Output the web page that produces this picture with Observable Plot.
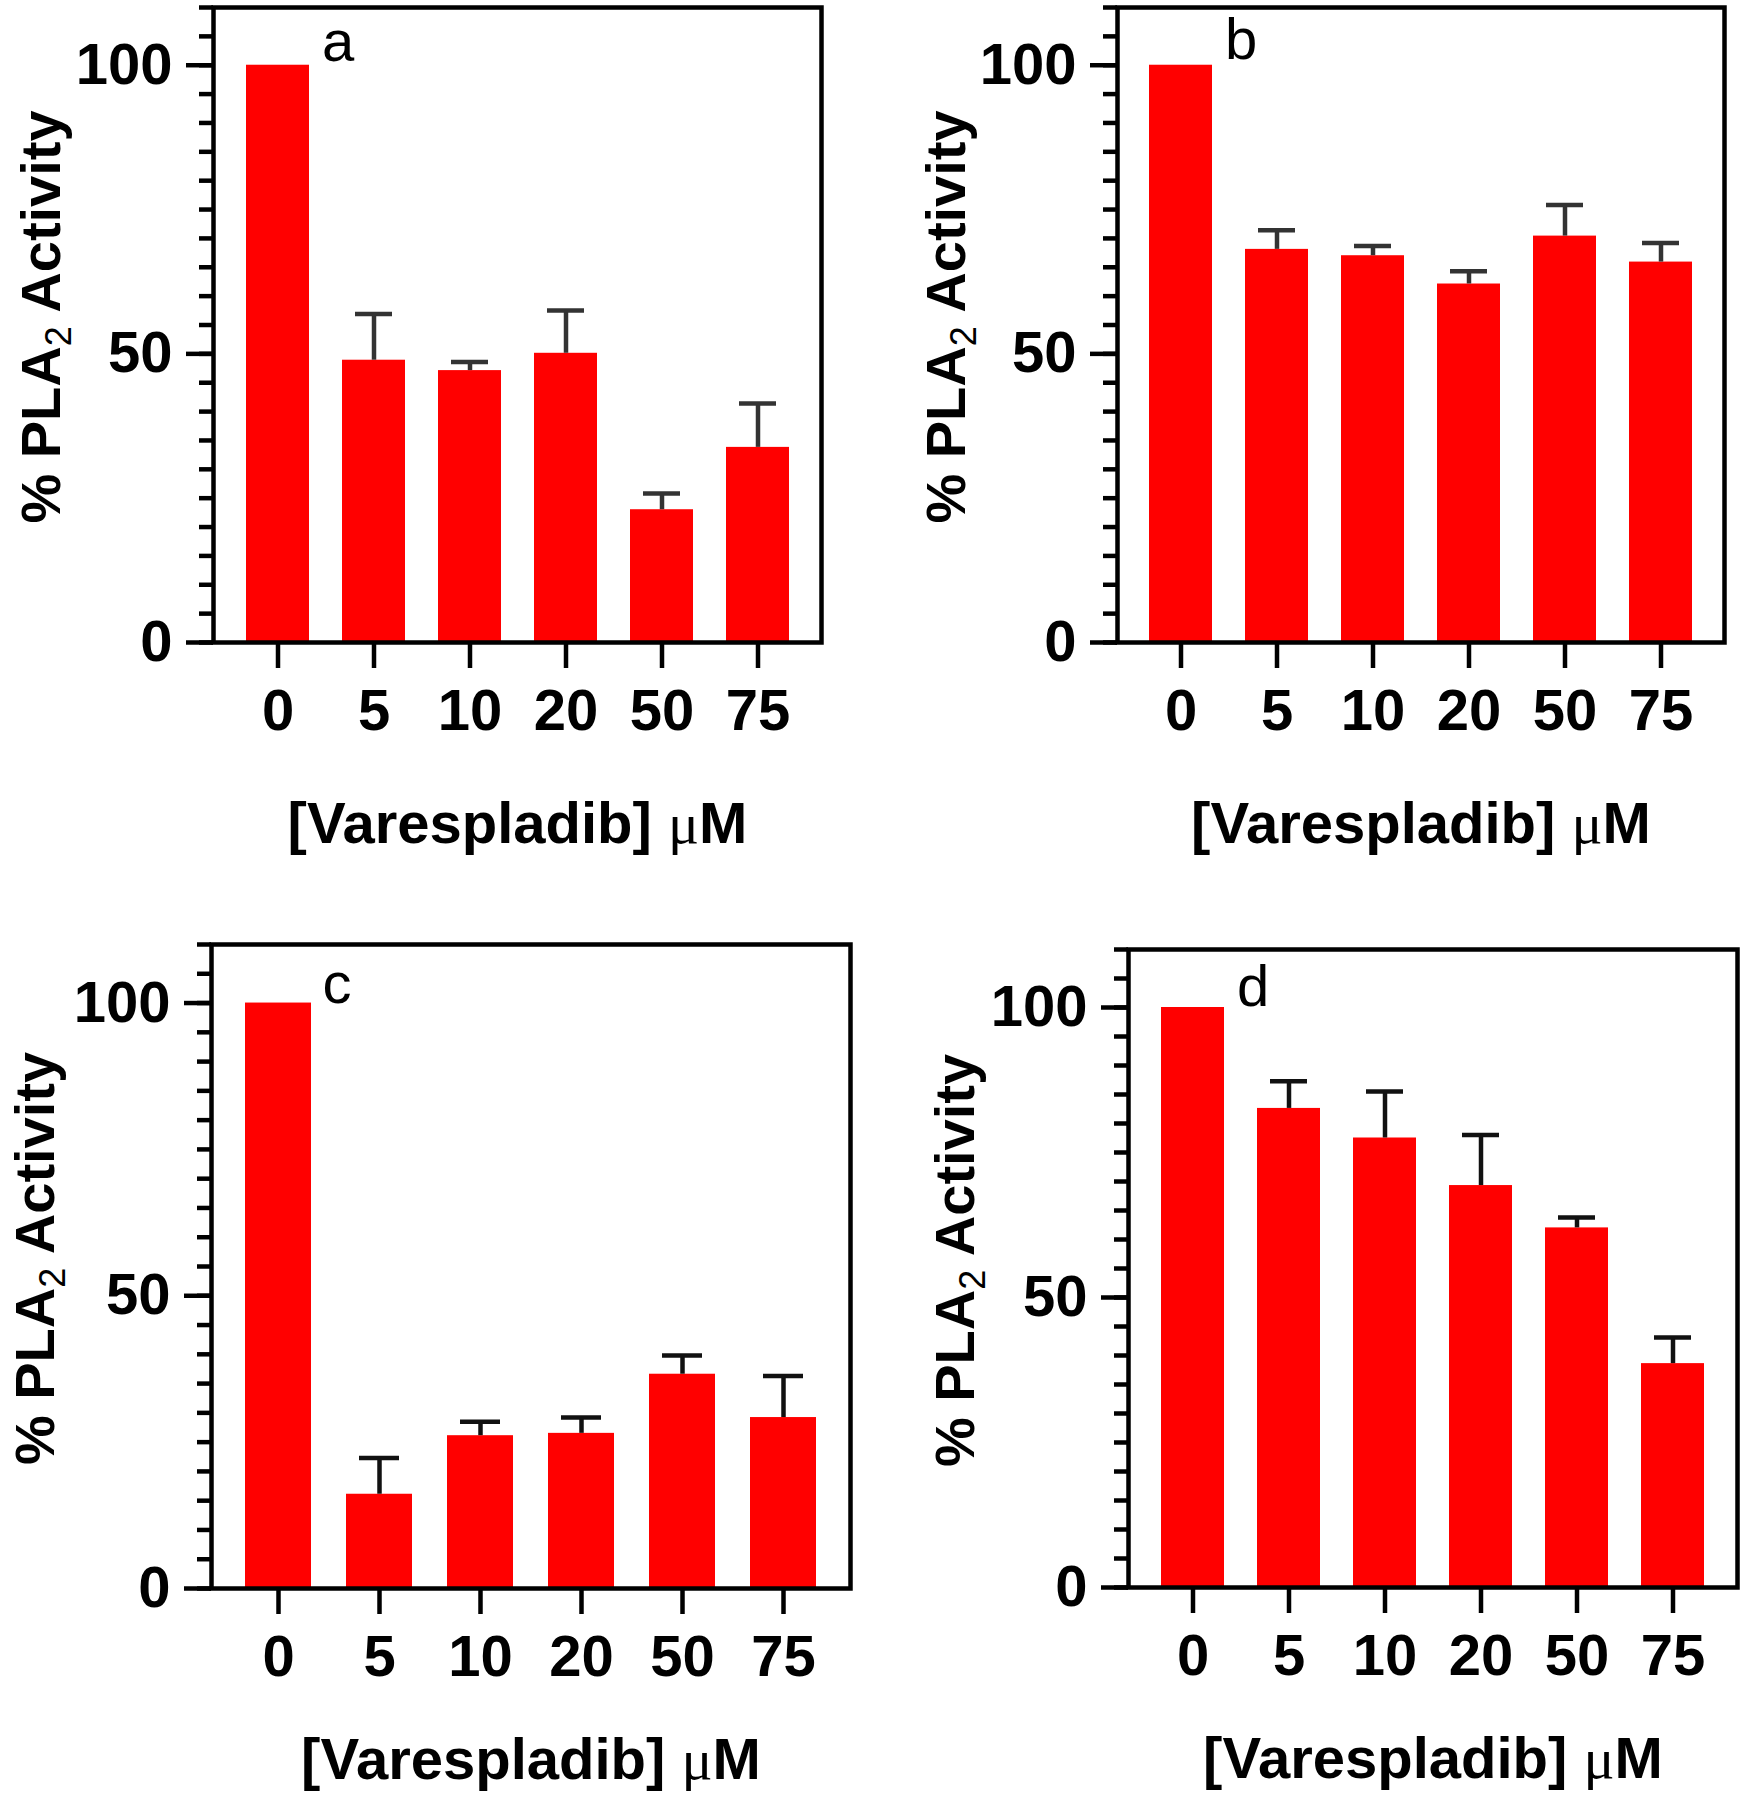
<!DOCTYPE html>
<html>
<head>
<meta charset="utf-8">
<script src="https://cdn.jsdelivr.net/npm/d3@7"></script>
<script src="https://cdn.jsdelivr.net/npm/@observablehq/plot@0.6"></script>
<style>
  html, body { margin: 0; padding: 0; background: #ffffff; }
  #root { position: relative; width: 1744px; height: 1800px; background: #ffffff; overflow: hidden; }
  #root svg { position: absolute; overflow: visible; }
</style>
</head>
<body>
<div id="root"></div>
<script>
// ---- data ----
const doses = ["0", "5", "10", "20", "50", "75"];
const panelLetters = ["a", "b", "c", "d"];

const meanA = [100, 48.9, 47.1, 50.1, 23.0, 33.8];
const errA  = [0,   8.0,  1.5,  7.4,  2.8,  7.6];
const meanB = [100, 68.1, 67.0, 62.1, 70.4, 65.9];
const errB  = [0,   3.3,  1.7,  2.2,  5.4,  3.3];
const meanC = [100, 16.1, 26.1, 26.5, 36.6, 29.2];
const errC  = [0,   6.2,  2.4,  2.7,  3.2,  7.1];
const meanD = [100, 82.6, 77.5, 69.3, 62.0, 38.6];
const errD  = [0,   4.7,  8.0,  8.7,  1.8,  4.5];

const yMajorTicks = [0, 50, 100];
const yMinorTicks = [0, 5, 10, 15, 20, 25, 30, 35, 40, 45, 50, 55, 60, 65, 70, 75, 80, 85, 90, 95, 100, 105, 110];
const yDomain = [0, 110];
const yTitle = "% PLA2 Activity";
const xTitle = "[Varespladib] \u03bcM";

// ---- layout (positions / styles only) ----
const panels = [
  {means: meanA, errs: errA, letter: panelLetters[0], left: 0,   top: 0,   ml: 213, mr: 51, mt: 7,  mb: 258, yTitleDx: -171, xTitleDy: 200, letterDy: -4, errColor: "#333333"},
  {means: meanB, errs: errB, letter: panelLetters[1], left: 872, top: 0,   ml: 245, mr: 20, mt: 7,  mb: 258, yTitleDx: -170, xTitleDy: 200, letterDy: -6, errColor: "#333333"},
  {means: meanC, errs: errC, letter: panelLetters[2], left: 0,   top: 900, ml: 211, mr: 22, mt: 44, mb: 212, yTitleDx: -175, xTitleDy: 190, letterDy: 0,  errColor: "#111111"},
  {means: meanD, errs: errD, letter: panelLetters[3], left: 872, top: 900, ml: 256, mr: 7,  mt: 49, mb: 213, yTitleDx: -172, xTitleDy: 190, letterDy: -2, errColor: "#111111"}
];

const FONT = "'Liberation Sans', Arial, Helvetica, sans-serif";
const LW = 4.5;
const root = document.getElementById("root");

function rebuildText(svg) {
  svg.querySelectorAll("text").forEach(t => {
    const s = t.textContent;
    if (s === yTitle) {
      t.textContent = "";
      const a = document.createElementNS("http://www.w3.org/2000/svg", "tspan");
      a.textContent = "% PLA";
      const b = document.createElementNS("http://www.w3.org/2000/svg", "tspan");
      b.textContent = "2";
      b.setAttribute("font-size", "36");
      b.setAttribute("font-weight", "normal");
      b.setAttribute("dy", "11");
      const c = document.createElementNS("http://www.w3.org/2000/svg", "tspan");
      c.textContent = " Activity";
      c.setAttribute("dy", "-11");
      t.append(a, b, c);
    } else if (s === xTitle) {
      t.textContent = "";
      const a = document.createElementNS("http://www.w3.org/2000/svg", "tspan");
      a.textContent = "[Varespladib] ";
      const b = document.createElementNS("http://www.w3.org/2000/svg", "tspan");
      b.textContent = "\u03bc";
      b.setAttribute("font-family", "'Liberation Serif', 'DejaVu Serif', serif");
      b.setAttribute("font-weight", "normal");
      const c = document.createElementNS("http://www.w3.org/2000/svg", "tspan");
      c.textContent = "M";
      t.append(a, b, c);
    }
  });
}

panels.forEach(p => {
  const data = doses.map((d, i) => ({dose: d, mean: p.means[i], hi: p.means[i] + p.errs[i], err: p.errs[i]}));
  const errData = data.filter(d => d.err > 0);
  const svg = Plot.plot({
    width: 872,
    height: 900,
    marginLeft: p.ml,
    marginRight: p.mr,
    marginTop: p.mt,
    marginBottom: p.mb,
    style: {fontFamily: FONT, color: "black", background: "transparent", overflow: "visible"},
    x: {type: "band", domain: doses, paddingInner: 0.345, paddingOuter: 0.33, label: null},
    y: {domain: yDomain, label: null},
    marks: [
      Plot.barY(data, {x: "dose", y: "mean", fill: "#ff0000"}),
      Plot.ruleX(errData, {x: "dose", y1: "mean", y2: "hi", stroke: p.errColor, strokeWidth: LW}),
      Plot.tickY(errData, {x: "dose", y: "hi", stroke: p.errColor, strokeWidth: LW, insetLeft: 13, insetRight: 13}),
      Plot.frame({stroke: "black", strokeWidth: LW}),
      Plot.axisY({ticks: yMinorTicks, tickSize: 14, tickFormat: () => "", strokeWidth: LW, label: null}),
      Plot.axisY({ticks: yMajorTicks, tickSize: 27, tickPadding: 14, fontSize: 58, fontWeight: "bold", strokeWidth: LW, label: null}),
      Plot.axisX({tickSize: 26, tickPadding: 20, fontSize: 58, fontWeight: "bold", strokeWidth: LW, label: null}),
      Plot.text([data[0]], {x: "dose", y: "mean", text: () => p.letter, dx: 44, dy: p.letterDy, textAnchor: "start", lineAnchor: "bottom", fontSize: 58, fontWeight: "normal"}),
      Plot.text([yTitle], {text: d => d, frameAnchor: "left", rotate: -90, dx: p.yTitleDx, dy: -8, fontSize: 56, fontWeight: "bold", lineAnchor: "middle", textAnchor: "middle"}),
      Plot.text([xTitle], {text: d => d, frameAnchor: "bottom", dy: p.xTitleDy, fontSize: 58, fontWeight: "bold", lineAnchor: "bottom", textAnchor: "middle"})
    ]
  });
  svg.style.left = p.left + "px";
  svg.style.top = p.top + "px";
  rebuildText(svg);
  root.appendChild(svg);
});
</script>
</body>
</html>
